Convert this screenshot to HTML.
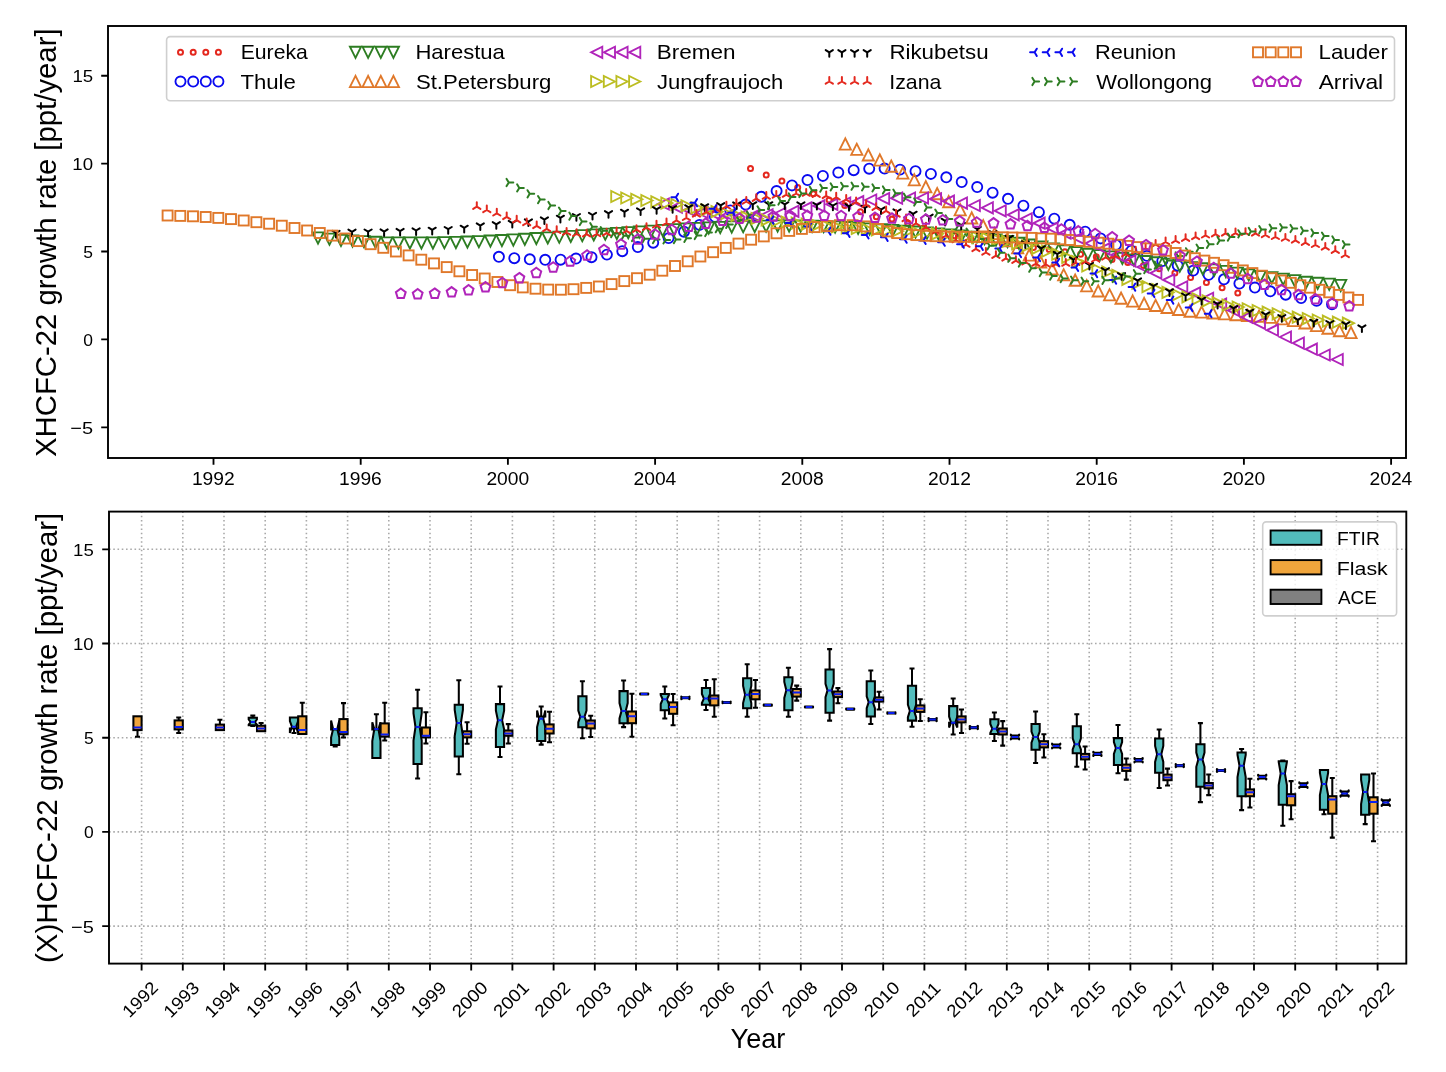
<!DOCTYPE html><html><head><meta charset="utf-8"><title>HCFC-22 growth rate</title>
<style>html,body{margin:0;padding:0;background:#fff;overflow:hidden}svg{display:block;will-change:transform}text{font-family:"Liberation Sans",sans-serif;fill:#000}</style></head><body>
<svg width="1446" height="1072" viewBox="0 0 1446 1072">
<defs>
<circle id="m_os" r="2.5" fill="none" stroke-width="2.0"/>
<circle id="m_o" r="5.05" fill="none" stroke-width="1.85"/>
<path id="m_v" d="M0,5.6L-5.6,-5.6L5.6,-5.6Z" fill="none" stroke-width="1.85" stroke-linejoin="miter"/>
<path id="m_^" d="M0,-5.6L-5.6,5.6L5.6,5.6Z" fill="none" stroke-width="1.85" stroke-linejoin="miter"/>
<path id="m_<" d="M-5.6,0L5.6,-5.6L5.6,5.6Z" fill="none" stroke-width="1.85" stroke-linejoin="miter"/>
<path id="m_>" d="M5.6,0L-5.6,-5.6L-5.6,5.6Z" fill="none" stroke-width="1.85" stroke-linejoin="miter"/>
<path id="m_1" d="M0,0V4.5M0,0L-3.6,-2.2M0,0L3.6,-2.2" fill="none" stroke-width="2.0" stroke-linecap="round"/>
<path id="m_2" d="M0,0V-4.5M0,0L-3.6,2.2M0,0L3.6,2.2" fill="none" stroke-width="2.0" stroke-linecap="round"/>
<path id="m_3" d="M0,0H-4.5M0,0L2.2,-3.6M0,0L2.2,3.6" fill="none" stroke-width="2.0" stroke-linecap="round"/>
<path id="m_4" d="M0,0H4.5M0,0L-2.2,-3.6M0,0L-2.2,3.6" fill="none" stroke-width="2.0" stroke-linecap="round"/>
<rect id="m_s" x="-5" y="-5" width="10" height="10" fill="none" stroke-width="1.9"/>
<path id="m_p" d="M0,-4.9L4.9,-1.3L3.1,4.6L-3.1,4.6L-4.9,-1.3Z" fill="none" stroke-width="2.0" stroke-linejoin="miter"/>
<clipPath id="ct"><rect x="108.0" y="26.0" width="1298" height="432"/></clipPath>
<clipPath id="cb"><rect x="109.0" y="511.6" width="1297.3" height="452"/></clipPath>
</defs>
<rect width="1446" height="1072" fill="#fff"/>
<g clip-path="url(#ct)">
<g stroke="#e4281e">
<use href="#m_os" x="750.5" y="168.5"/>
<use href="#m_os" x="766.2" y="174.9"/>
<use href="#m_os" x="781.9" y="180.9"/>
<use href="#m_os" x="797.7" y="187.4"/>
<use href="#m_os" x="813.4" y="193.7"/>
<use href="#m_os" x="829.1" y="199.9"/>
<use href="#m_os" x="844.8" y="205.6"/>
<use href="#m_os" x="860.5" y="211.7"/>
<use href="#m_os" x="876.3" y="216.8"/>
<use href="#m_os" x="892" y="219.1"/>
<use href="#m_os" x="907.7" y="223.3"/>
<use href="#m_os" x="923.4" y="228.3"/>
<use href="#m_os" x="939.1" y="233"/>
<use href="#m_os" x="954.9" y="235.7"/>
<use href="#m_os" x="970.6" y="238.3"/>
<use href="#m_os" x="986.3" y="240.8"/>
<use href="#m_os" x="1002" y="243.2"/>
<use href="#m_os" x="1017.7" y="245.4"/>
<use href="#m_os" x="1033.4" y="247.5"/>
<use href="#m_os" x="1049.2" y="249.6"/>
<use href="#m_os" x="1064.9" y="251.8"/>
<use href="#m_os" x="1080.6" y="254.3"/>
<use href="#m_os" x="1096.3" y="256.8"/>
<use href="#m_os" x="1112" y="259.4"/>
<use href="#m_os" x="1127.8" y="262.5"/>
<use href="#m_os" x="1143.5" y="265.6"/>
<use href="#m_os" x="1159.2" y="268.8"/>
<use href="#m_os" x="1174.9" y="273"/>
<use href="#m_os" x="1190.6" y="277.4"/>
<use href="#m_os" x="1206.4" y="282.6"/>
<use href="#m_os" x="1222.1" y="287.8"/>
<use href="#m_os" x="1237.8" y="293"/>
</g>
<g stroke="#0a0af0">
<use href="#m_o" x="498.9" y="256.8"/>
<use href="#m_o" x="514.3" y="258.2"/>
<use href="#m_o" x="529.8" y="259.3"/>
<use href="#m_o" x="545.2" y="259.8"/>
<use href="#m_o" x="560.6" y="259.7"/>
<use href="#m_o" x="576" y="258.5"/>
<use href="#m_o" x="591.5" y="257.2"/>
<use href="#m_o" x="606.9" y="254.6"/>
<use href="#m_o" x="622.3" y="251.2"/>
<use href="#m_o" x="637.8" y="247"/>
<use href="#m_o" x="653.2" y="242.7"/>
<use href="#m_o" x="668.6" y="238.1"/>
<use href="#m_o" x="684" y="231.7"/>
<use href="#m_o" x="699.5" y="224.9"/>
<use href="#m_o" x="714.9" y="216.8"/>
<use href="#m_o" x="730.3" y="210.4"/>
<use href="#m_o" x="745.7" y="204.5"/>
<use href="#m_o" x="761.2" y="196.8"/>
<use href="#m_o" x="776.6" y="191"/>
<use href="#m_o" x="792" y="185.4"/>
<use href="#m_o" x="807.5" y="180"/>
<use href="#m_o" x="822.9" y="175.9"/>
<use href="#m_o" x="838.3" y="172.5"/>
<use href="#m_o" x="853.7" y="170.2"/>
<use href="#m_o" x="869.2" y="168.7"/>
<use href="#m_o" x="884.6" y="168.5"/>
<use href="#m_o" x="900" y="169.6"/>
<use href="#m_o" x="915.5" y="171.2"/>
<use href="#m_o" x="930.9" y="173.9"/>
<use href="#m_o" x="946.3" y="177.3"/>
<use href="#m_o" x="961.7" y="182"/>
<use href="#m_o" x="977.2" y="187"/>
<use href="#m_o" x="992.6" y="192.7"/>
<use href="#m_o" x="1008" y="198.8"/>
<use href="#m_o" x="1023.4" y="205.7"/>
<use href="#m_o" x="1038.9" y="212.2"/>
<use href="#m_o" x="1054.3" y="218.6"/>
<use href="#m_o" x="1069.7" y="224.8"/>
<use href="#m_o" x="1085.2" y="231.6"/>
<use href="#m_o" x="1100.6" y="238.4"/>
<use href="#m_o" x="1116" y="244.8"/>
<use href="#m_o" x="1131.4" y="250.7"/>
<use href="#m_o" x="1146.9" y="255.9"/>
<use href="#m_o" x="1162.3" y="261"/>
<use href="#m_o" x="1177.7" y="265.5"/>
<use href="#m_o" x="1193.2" y="270.6"/>
<use href="#m_o" x="1208.6" y="274.9"/>
<use href="#m_o" x="1224" y="279.3"/>
<use href="#m_o" x="1239.4" y="283.5"/>
<use href="#m_o" x="1254.9" y="287.5"/>
<use href="#m_o" x="1270.3" y="291.3"/>
<use href="#m_o" x="1285.7" y="294.7"/>
<use href="#m_o" x="1301.1" y="298.1"/>
<use href="#m_o" x="1316.6" y="300.9"/>
<use href="#m_o" x="1332" y="304.2"/>
</g>
<g stroke="#2d7d22">
<use href="#m_v" x="318" y="238"/>
<use href="#m_v" x="329.5" y="239.2"/>
<use href="#m_v" x="341" y="240.4"/>
<use href="#m_v" x="352.5" y="241.1"/>
<use href="#m_v" x="364" y="241.7"/>
<use href="#m_v" x="375.5" y="242.3"/>
<use href="#m_v" x="386.9" y="242.9"/>
<use href="#m_v" x="398.4" y="243"/>
<use href="#m_v" x="409.9" y="243"/>
<use href="#m_v" x="421.4" y="243"/>
<use href="#m_v" x="432.9" y="243"/>
<use href="#m_v" x="444.4" y="242.7"/>
<use href="#m_v" x="455.9" y="242.5"/>
<use href="#m_v" x="467.4" y="242.1"/>
<use href="#m_v" x="478.9" y="241.7"/>
<use href="#m_v" x="490.4" y="241.1"/>
<use href="#m_v" x="501.9" y="240.6"/>
<use href="#m_v" x="513.3" y="240"/>
<use href="#m_v" x="524.8" y="239.3"/>
<use href="#m_v" x="536.3" y="238.6"/>
<use href="#m_v" x="547.8" y="237.9"/>
<use href="#m_v" x="559.3" y="237.2"/>
<use href="#m_v" x="570.8" y="236.4"/>
<use href="#m_v" x="582.3" y="235.7"/>
<use href="#m_v" x="593.8" y="234.9"/>
<use href="#m_v" x="605.3" y="234.2"/>
<use href="#m_v" x="616.8" y="233.5"/>
<use href="#m_v" x="628.3" y="232.7"/>
<use href="#m_v" x="639.7" y="232"/>
<use href="#m_v" x="651.2" y="231.2"/>
<use href="#m_v" x="662.7" y="230.5"/>
<use href="#m_v" x="674.2" y="229.7"/>
<use href="#m_v" x="685.7" y="229"/>
<use href="#m_v" x="697.2" y="228.5"/>
<use href="#m_v" x="708.7" y="228"/>
<use href="#m_v" x="720.2" y="227.5"/>
<use href="#m_v" x="731.7" y="227"/>
<use href="#m_v" x="743.2" y="226.7"/>
<use href="#m_v" x="754.7" y="226.5"/>
<use href="#m_v" x="766.1" y="226.2"/>
<use href="#m_v" x="777.6" y="226"/>
<use href="#m_v" x="789.1" y="226"/>
<use href="#m_v" x="800.6" y="226"/>
<use href="#m_v" x="812.1" y="226.3"/>
<use href="#m_v" x="823.6" y="226.6"/>
<use href="#m_v" x="835.1" y="227"/>
<use href="#m_v" x="846.6" y="227.6"/>
<use href="#m_v" x="858.1" y="228.3"/>
<use href="#m_v" x="869.6" y="229"/>
<use href="#m_v" x="881.1" y="229.8"/>
<use href="#m_v" x="892.6" y="230.5"/>
<use href="#m_v" x="904" y="231.3"/>
<use href="#m_v" x="915.5" y="232.1"/>
<use href="#m_v" x="927" y="233"/>
<use href="#m_v" x="938.5" y="234"/>
<use href="#m_v" x="950" y="235"/>
<use href="#m_v" x="961.5" y="236.1"/>
<use href="#m_v" x="973" y="237.3"/>
<use href="#m_v" x="984.5" y="238.6"/>
<use href="#m_v" x="996" y="240.1"/>
<use href="#m_v" x="1007.5" y="241.6"/>
<use href="#m_v" x="1019" y="243.3"/>
<use href="#m_v" x="1030.4" y="245.1"/>
<use href="#m_v" x="1041.9" y="247.1"/>
<use href="#m_v" x="1053.4" y="249.1"/>
<use href="#m_v" x="1064.9" y="250.9"/>
<use href="#m_v" x="1076.4" y="252.6"/>
<use href="#m_v" x="1087.9" y="254.3"/>
<use href="#m_v" x="1099.4" y="255.7"/>
<use href="#m_v" x="1110.9" y="257"/>
<use href="#m_v" x="1122.4" y="258.4"/>
<use href="#m_v" x="1133.9" y="260"/>
<use href="#m_v" x="1145.4" y="261.6"/>
<use href="#m_v" x="1156.8" y="262.9"/>
<use href="#m_v" x="1168.3" y="264.3"/>
<use href="#m_v" x="1179.8" y="266"/>
<use href="#m_v" x="1191.3" y="267.8"/>
<use href="#m_v" x="1202.8" y="268.9"/>
<use href="#m_v" x="1214.3" y="270"/>
<use href="#m_v" x="1225.8" y="271.5"/>
<use href="#m_v" x="1237.3" y="273.2"/>
<use href="#m_v" x="1248.8" y="274.9"/>
<use href="#m_v" x="1260.3" y="276.6"/>
<use href="#m_v" x="1271.8" y="277.9"/>
<use href="#m_v" x="1283.2" y="279.2"/>
<use href="#m_v" x="1294.7" y="280.8"/>
<use href="#m_v" x="1306.2" y="282.4"/>
<use href="#m_v" x="1317.7" y="283.4"/>
<use href="#m_v" x="1329.2" y="284.3"/>
<use href="#m_v" x="1340.7" y="285.5"/>
</g>
<g stroke="#e0782a">
<use href="#m_^" x="845.3" y="144"/>
<use href="#m_^" x="856.8" y="149.3"/>
<use href="#m_^" x="868.3" y="154.9"/>
<use href="#m_^" x="879.8" y="160"/>
<use href="#m_^" x="891.3" y="166.1"/>
<use href="#m_^" x="902.8" y="173"/>
<use href="#m_^" x="914.3" y="179.8"/>
<use href="#m_^" x="925.8" y="186.7"/>
<use href="#m_^" x="937.2" y="193.6"/>
<use href="#m_^" x="948.7" y="201.6"/>
<use href="#m_^" x="960.2" y="209.7"/>
<use href="#m_^" x="971.7" y="217.9"/>
<use href="#m_^" x="983.2" y="225.7"/>
<use href="#m_^" x="994.7" y="233.5"/>
<use href="#m_^" x="1006.2" y="240.7"/>
<use href="#m_^" x="1017.7" y="247.8"/>
<use href="#m_^" x="1029.2" y="255"/>
<use href="#m_^" x="1040.7" y="261.9"/>
<use href="#m_^" x="1052.2" y="268.9"/>
<use href="#m_^" x="1063.7" y="274.8"/>
<use href="#m_^" x="1075.2" y="280.1"/>
<use href="#m_^" x="1086.7" y="285.7"/>
<use href="#m_^" x="1098.2" y="290.9"/>
<use href="#m_^" x="1109.6" y="294.8"/>
<use href="#m_^" x="1121.1" y="298.1"/>
<use href="#m_^" x="1132.6" y="301"/>
<use href="#m_^" x="1144.1" y="303.5"/>
<use href="#m_^" x="1155.6" y="305.4"/>
<use href="#m_^" x="1167.1" y="307.4"/>
<use href="#m_^" x="1178.6" y="309.4"/>
<use href="#m_^" x="1190.1" y="311.1"/>
<use href="#m_^" x="1201.6" y="312"/>
<use href="#m_^" x="1213.1" y="312.9"/>
<use href="#m_^" x="1224.6" y="313.7"/>
<use href="#m_^" x="1236.1" y="314.6"/>
<use href="#m_^" x="1247.6" y="315.4"/>
<use href="#m_^" x="1259.1" y="316.1"/>
<use href="#m_^" x="1270.5" y="317.2"/>
<use href="#m_^" x="1282" y="318.8"/>
<use href="#m_^" x="1293.5" y="320.5"/>
<use href="#m_^" x="1305" y="322.9"/>
<use href="#m_^" x="1316.5" y="325.5"/>
<use href="#m_^" x="1328" y="328.1"/>
<use href="#m_^" x="1339.5" y="330.6"/>
<use href="#m_^" x="1351" y="332.5"/>
</g>
<g stroke="#b024ba">
<use href="#m_<" x="663.3" y="204"/>
<use href="#m_<" x="676.3" y="207.1"/>
<use href="#m_<" x="689.2" y="210.2"/>
<use href="#m_<" x="702.2" y="212.5"/>
<use href="#m_<" x="715.1" y="214.2"/>
<use href="#m_<" x="728.1" y="215"/>
<use href="#m_<" x="741.1" y="215.5"/>
<use href="#m_<" x="754" y="215.4"/>
<use href="#m_<" x="767" y="214.8"/>
<use href="#m_<" x="779.9" y="213.5"/>
<use href="#m_<" x="792.9" y="211.3"/>
<use href="#m_<" x="805.9" y="207.9"/>
<use href="#m_<" x="818.8" y="205.9"/>
<use href="#m_<" x="831.8" y="204.3"/>
<use href="#m_<" x="844.7" y="203"/>
<use href="#m_<" x="857.7" y="201.7"/>
<use href="#m_<" x="870.7" y="200"/>
<use href="#m_<" x="883.6" y="198.6"/>
<use href="#m_<" x="896.6" y="198.2"/>
<use href="#m_<" x="909.5" y="198.1"/>
<use href="#m_<" x="922.5" y="198"/>
<use href="#m_<" x="935.5" y="198.9"/>
<use href="#m_<" x="948.4" y="201.2"/>
<use href="#m_<" x="961.4" y="203.1"/>
<use href="#m_<" x="974.3" y="205.5"/>
<use href="#m_<" x="987.3" y="207.8"/>
<use href="#m_<" x="1000.2" y="210.8"/>
<use href="#m_<" x="1013.2" y="214.8"/>
<use href="#m_<" x="1026.2" y="218.8"/>
<use href="#m_<" x="1039.1" y="223.2"/>
<use href="#m_<" x="1052.1" y="228.2"/>
<use href="#m_<" x="1065" y="233.1"/>
<use href="#m_<" x="1078" y="238.1"/>
<use href="#m_<" x="1091" y="243.3"/>
<use href="#m_<" x="1103.9" y="248.9"/>
<use href="#m_<" x="1116.9" y="254.9"/>
<use href="#m_<" x="1129.8" y="260.9"/>
<use href="#m_<" x="1142.8" y="267"/>
<use href="#m_<" x="1155.8" y="273.1"/>
<use href="#m_<" x="1168.7" y="279.9"/>
<use href="#m_<" x="1181.7" y="286.8"/>
<use href="#m_<" x="1194.6" y="292.9"/>
<use href="#m_<" x="1207.6" y="298.3"/>
<use href="#m_<" x="1220.6" y="304.2"/>
<use href="#m_<" x="1233.5" y="310.4"/>
<use href="#m_<" x="1246.5" y="317.1"/>
<use href="#m_<" x="1259.4" y="323.3"/>
<use href="#m_<" x="1272.4" y="330.2"/>
<use href="#m_<" x="1285.4" y="337"/>
<use href="#m_<" x="1298.3" y="343.1"/>
<use href="#m_<" x="1311.3" y="349.2"/>
<use href="#m_<" x="1324.2" y="355"/>
<use href="#m_<" x="1337.2" y="359.5"/>
</g>
<g stroke="#bcbd22">
<use href="#m_>" x="616.8" y="196.5"/>
<use href="#m_>" x="626.8" y="198"/>
<use href="#m_>" x="636.8" y="199.3"/>
<use href="#m_>" x="646.9" y="200.5"/>
<use href="#m_>" x="656.9" y="201.8"/>
<use href="#m_>" x="666.9" y="203.1"/>
<use href="#m_>" x="676.9" y="204.5"/>
<use href="#m_>" x="687" y="205.8"/>
<use href="#m_>" x="697" y="207.8"/>
<use href="#m_>" x="707" y="209.8"/>
<use href="#m_>" x="717" y="211.7"/>
<use href="#m_>" x="727" y="213.5"/>
<use href="#m_>" x="737.1" y="215.4"/>
<use href="#m_>" x="747.1" y="217.2"/>
<use href="#m_>" x="757.1" y="218.5"/>
<use href="#m_>" x="767.1" y="219.8"/>
<use href="#m_>" x="777.2" y="221"/>
<use href="#m_>" x="787.2" y="222.2"/>
<use href="#m_>" x="797.2" y="223.2"/>
<use href="#m_>" x="807.2" y="224.2"/>
<use href="#m_>" x="817.2" y="225.2"/>
<use href="#m_>" x="827.3" y="226.1"/>
<use href="#m_>" x="837.3" y="226.9"/>
<use href="#m_>" x="847.3" y="227.8"/>
<use href="#m_>" x="857.3" y="228.5"/>
<use href="#m_>" x="867.3" y="229.2"/>
<use href="#m_>" x="877.4" y="229.8"/>
<use href="#m_>" x="887.4" y="230.5"/>
<use href="#m_>" x="897.4" y="231.2"/>
<use href="#m_>" x="907.4" y="231.8"/>
<use href="#m_>" x="917.5" y="232.5"/>
<use href="#m_>" x="927.5" y="233.2"/>
<use href="#m_>" x="937.5" y="233.8"/>
<use href="#m_>" x="947.5" y="234.6"/>
<use href="#m_>" x="957.5" y="235.5"/>
<use href="#m_>" x="967.6" y="236.3"/>
<use href="#m_>" x="977.6" y="237.3"/>
<use href="#m_>" x="987.6" y="238.4"/>
<use href="#m_>" x="997.6" y="239.6"/>
<use href="#m_>" x="1007.7" y="241.3"/>
<use href="#m_>" x="1017.7" y="243.6"/>
<use href="#m_>" x="1027.7" y="245.8"/>
<use href="#m_>" x="1037.7" y="248.3"/>
<use href="#m_>" x="1047.7" y="251.2"/>
<use href="#m_>" x="1057.8" y="254.2"/>
<use href="#m_>" x="1067.8" y="257.3"/>
<use href="#m_>" x="1077.8" y="261.7"/>
<use href="#m_>" x="1087.8" y="266"/>
<use href="#m_>" x="1097.9" y="269.5"/>
<use href="#m_>" x="1107.9" y="272"/>
<use href="#m_>" x="1117.9" y="275.3"/>
<use href="#m_>" x="1127.9" y="279.3"/>
<use href="#m_>" x="1137.9" y="283.2"/>
<use href="#m_>" x="1148" y="286.6"/>
<use href="#m_>" x="1158" y="289.7"/>
<use href="#m_>" x="1168" y="292.4"/>
<use href="#m_>" x="1178" y="294.8"/>
<use href="#m_>" x="1188" y="296.8"/>
<use href="#m_>" x="1198.1" y="298.8"/>
<use href="#m_>" x="1208.1" y="300.8"/>
<use href="#m_>" x="1218.1" y="302.9"/>
<use href="#m_>" x="1228.1" y="305.1"/>
<use href="#m_>" x="1238.2" y="307.1"/>
<use href="#m_>" x="1248.2" y="308.8"/>
<use href="#m_>" x="1258.2" y="310.5"/>
<use href="#m_>" x="1268.2" y="312.2"/>
<use href="#m_>" x="1278.2" y="313.8"/>
<use href="#m_>" x="1288.3" y="315.5"/>
<use href="#m_>" x="1298.3" y="317.2"/>
<use href="#m_>" x="1308.3" y="318.6"/>
<use href="#m_>" x="1318.3" y="320"/>
<use href="#m_>" x="1328.4" y="321.2"/>
<use href="#m_>" x="1338.4" y="322.2"/>
<use href="#m_>" x="1348.4" y="323.2"/>
</g>
<g stroke="#000000">
<use href="#m_1" x="336" y="233"/>
<use href="#m_1" x="352" y="231.8"/>
<use href="#m_1" x="368.1" y="231.7"/>
<use href="#m_1" x="384.1" y="231.6"/>
<use href="#m_1" x="400.1" y="231.1"/>
<use href="#m_1" x="416.1" y="230.5"/>
<use href="#m_1" x="432.2" y="229.9"/>
<use href="#m_1" x="448.2" y="229.2"/>
<use href="#m_1" x="464.2" y="227.9"/>
<use href="#m_1" x="480.3" y="225.6"/>
<use href="#m_1" x="496.3" y="224.3"/>
<use href="#m_1" x="512.3" y="223.1"/>
<use href="#m_1" x="528.4" y="221.6"/>
<use href="#m_1" x="544.4" y="219.6"/>
<use href="#m_1" x="560.4" y="217.9"/>
<use href="#m_1" x="576.4" y="216.2"/>
<use href="#m_1" x="592.5" y="215"/>
<use href="#m_1" x="608.5" y="213.3"/>
<use href="#m_1" x="624.5" y="211.9"/>
<use href="#m_1" x="640.6" y="210.5"/>
<use href="#m_1" x="656.6" y="209.3"/>
<use href="#m_1" x="672.6" y="208.2"/>
<use href="#m_1" x="688.7" y="207.4"/>
<use href="#m_1" x="704.7" y="206.4"/>
<use href="#m_1" x="720.7" y="205.3"/>
<use href="#m_1" x="736.7" y="204.6"/>
<use href="#m_1" x="752.8" y="204.4"/>
<use href="#m_1" x="768.8" y="204.4"/>
<use href="#m_1" x="784.8" y="204.4"/>
<use href="#m_1" x="800.9" y="204.5"/>
<use href="#m_1" x="816.9" y="205"/>
<use href="#m_1" x="832.9" y="205.7"/>
<use href="#m_1" x="849" y="206.3"/>
<use href="#m_1" x="865" y="207.9"/>
<use href="#m_1" x="881" y="209.6"/>
<use href="#m_1" x="897" y="211.5"/>
<use href="#m_1" x="913.1" y="213.9"/>
<use href="#m_1" x="929.1" y="216.8"/>
<use href="#m_1" x="945.1" y="220.9"/>
<use href="#m_1" x="961.2" y="225"/>
<use href="#m_1" x="977.2" y="229.1"/>
<use href="#m_1" x="993.2" y="233.4"/>
<use href="#m_1" x="1009.2" y="238.1"/>
<use href="#m_1" x="1025.3" y="243.4"/>
<use href="#m_1" x="1041.3" y="248.4"/>
<use href="#m_1" x="1057.3" y="254.1"/>
<use href="#m_1" x="1073.4" y="259.6"/>
<use href="#m_1" x="1089.4" y="265"/>
<use href="#m_1" x="1105.4" y="270.3"/>
<use href="#m_1" x="1121.5" y="275.3"/>
<use href="#m_1" x="1137.5" y="280.6"/>
<use href="#m_1" x="1153.5" y="286"/>
<use href="#m_1" x="1169.5" y="291.4"/>
<use href="#m_1" x="1185.6" y="295.7"/>
<use href="#m_1" x="1201.6" y="299.9"/>
<use href="#m_1" x="1217.6" y="304.1"/>
<use href="#m_1" x="1233.7" y="308.3"/>
<use href="#m_1" x="1249.7" y="311.9"/>
<use href="#m_1" x="1265.7" y="314.6"/>
<use href="#m_1" x="1281.8" y="317.2"/>
<use href="#m_1" x="1297.8" y="319.8"/>
<use href="#m_1" x="1313.8" y="321.9"/>
<use href="#m_1" x="1329.8" y="323.2"/>
<use href="#m_1" x="1345.9" y="324.4"/>
<use href="#m_1" x="1361.9" y="327.6"/>
</g>
<g stroke="#e4281e">
<use href="#m_2" x="476.8" y="206.7"/>
<use href="#m_2" x="486.8" y="210"/>
<use href="#m_2" x="496.8" y="213.3"/>
<use href="#m_2" x="506.7" y="216.9"/>
<use href="#m_2" x="516.7" y="220.2"/>
<use href="#m_2" x="526.7" y="223"/>
<use href="#m_2" x="536.7" y="225.9"/>
<use href="#m_2" x="546.7" y="228.9"/>
<use href="#m_2" x="556.7" y="230.8"/>
<use href="#m_2" x="566.6" y="232.5"/>
<use href="#m_2" x="576.6" y="233.8"/>
<use href="#m_2" x="586.6" y="234.2"/>
<use href="#m_2" x="596.6" y="234"/>
<use href="#m_2" x="606.6" y="233.2"/>
<use href="#m_2" x="616.6" y="232.1"/>
<use href="#m_2" x="626.5" y="230.9"/>
<use href="#m_2" x="636.5" y="229.7"/>
<use href="#m_2" x="646.5" y="227.7"/>
<use href="#m_2" x="656.5" y="225.3"/>
<use href="#m_2" x="666.5" y="223"/>
<use href="#m_2" x="676.5" y="220.4"/>
<use href="#m_2" x="686.4" y="217.8"/>
<use href="#m_2" x="696.4" y="214.4"/>
<use href="#m_2" x="706.4" y="211.8"/>
<use href="#m_2" x="716.4" y="209.5"/>
<use href="#m_2" x="726.4" y="206.3"/>
<use href="#m_2" x="736.4" y="203.7"/>
<use href="#m_2" x="746.3" y="201.5"/>
<use href="#m_2" x="756.3" y="198.7"/>
<use href="#m_2" x="766.3" y="196.6"/>
<use href="#m_2" x="776.3" y="195.5"/>
<use href="#m_2" x="786.3" y="194.6"/>
<use href="#m_2" x="796.2" y="193.5"/>
<use href="#m_2" x="806.2" y="193.6"/>
<use href="#m_2" x="816.2" y="194.7"/>
<use href="#m_2" x="826.2" y="195.9"/>
<use href="#m_2" x="836.2" y="197.3"/>
<use href="#m_2" x="846.2" y="199.6"/>
<use href="#m_2" x="856.1" y="202.1"/>
<use href="#m_2" x="866.1" y="204.7"/>
<use href="#m_2" x="876.1" y="207.7"/>
<use href="#m_2" x="886.1" y="210.9"/>
<use href="#m_2" x="896.1" y="214.5"/>
<use href="#m_2" x="906.1" y="219"/>
<use href="#m_2" x="916" y="223.4"/>
<use href="#m_2" x="926" y="227.3"/>
<use href="#m_2" x="936" y="231.3"/>
<use href="#m_2" x="946" y="235.5"/>
<use href="#m_2" x="956" y="240.1"/>
<use href="#m_2" x="966" y="244.6"/>
<use href="#m_2" x="975.9" y="248.9"/>
<use href="#m_2" x="985.9" y="252.5"/>
<use href="#m_2" x="995.9" y="255.7"/>
<use href="#m_2" x="1005.9" y="258.4"/>
<use href="#m_2" x="1015.9" y="260.7"/>
<use href="#m_2" x="1025.9" y="262.3"/>
<use href="#m_2" x="1035.8" y="263.6"/>
<use href="#m_2" x="1045.8" y="264.3"/>
<use href="#m_2" x="1055.8" y="264.1"/>
<use href="#m_2" x="1065.8" y="263.6"/>
<use href="#m_2" x="1075.8" y="262.7"/>
<use href="#m_2" x="1085.7" y="261.5"/>
<use href="#m_2" x="1095.7" y="259.3"/>
<use href="#m_2" x="1105.7" y="257.4"/>
<use href="#m_2" x="1115.7" y="255.9"/>
<use href="#m_2" x="1125.7" y="254.1"/>
<use href="#m_2" x="1135.7" y="251.3"/>
<use href="#m_2" x="1145.6" y="248.1"/>
<use href="#m_2" x="1155.6" y="244.5"/>
<use href="#m_2" x="1165.6" y="242"/>
<use href="#m_2" x="1175.6" y="240.6"/>
<use href="#m_2" x="1185.6" y="238.7"/>
<use href="#m_2" x="1195.6" y="236.9"/>
<use href="#m_2" x="1205.5" y="235.3"/>
<use href="#m_2" x="1215.5" y="234.2"/>
<use href="#m_2" x="1225.5" y="233.4"/>
<use href="#m_2" x="1235.5" y="233.1"/>
<use href="#m_2" x="1245.5" y="232.8"/>
<use href="#m_2" x="1255.5" y="233.4"/>
<use href="#m_2" x="1265.4" y="235"/>
<use href="#m_2" x="1275.4" y="236.8"/>
<use href="#m_2" x="1285.4" y="238.5"/>
<use href="#m_2" x="1295.4" y="240.4"/>
<use href="#m_2" x="1305.4" y="242.7"/>
<use href="#m_2" x="1315.4" y="244.8"/>
<use href="#m_2" x="1325.3" y="247.4"/>
<use href="#m_2" x="1335.3" y="250.7"/>
<use href="#m_2" x="1345.3" y="255"/>
</g>
<g stroke="#0a0af0">
<use href="#m_3" x="675.9" y="197.3"/>
<use href="#m_3" x="694.9" y="202.7"/>
<use href="#m_3" x="714" y="208.8"/>
<use href="#m_3" x="733" y="212.7"/>
<use href="#m_3" x="752.1" y="217.5"/>
<use href="#m_3" x="771.1" y="220"/>
<use href="#m_3" x="790.2" y="222.9"/>
<use href="#m_3" x="809.2" y="226.5"/>
<use href="#m_3" x="828.3" y="231.2"/>
<use href="#m_3" x="847.4" y="233.3"/>
<use href="#m_3" x="866.4" y="234.9"/>
<use href="#m_3" x="885.5" y="237.3"/>
<use href="#m_3" x="904.5" y="239.2"/>
<use href="#m_3" x="923.5" y="240.4"/>
<use href="#m_3" x="942.6" y="242.2"/>
<use href="#m_3" x="961.6" y="244.2"/>
<use href="#m_3" x="980.7" y="246.3"/>
<use href="#m_3" x="999.8" y="248.6"/>
<use href="#m_3" x="1018.8" y="253.5"/>
<use href="#m_3" x="1037.8" y="257.5"/>
<use href="#m_3" x="1056.9" y="262.5"/>
<use href="#m_3" x="1076" y="267.4"/>
<use href="#m_3" x="1095" y="273.6"/>
<use href="#m_3" x="1114" y="280.1"/>
<use href="#m_3" x="1133.1" y="287.1"/>
<use href="#m_3" x="1152.2" y="293.5"/>
<use href="#m_3" x="1171.2" y="300.1"/>
<use href="#m_3" x="1190.2" y="307.5"/>
<use href="#m_3" x="1209.3" y="313.7"/>
</g>
<g stroke="#2d7d22">
<use href="#m_4" x="508.8" y="182.5"/>
<use href="#m_4" x="519.3" y="187.9"/>
<use href="#m_4" x="529.7" y="193.8"/>
<use href="#m_4" x="540.2" y="199.6"/>
<use href="#m_4" x="550.6" y="205.5"/>
<use href="#m_4" x="561.1" y="211.1"/>
<use href="#m_4" x="571.5" y="216.1"/>
<use href="#m_4" x="582" y="221.5"/>
<use href="#m_4" x="592.4" y="226.7"/>
<use href="#m_4" x="602.9" y="230.7"/>
<use href="#m_4" x="613.3" y="233.6"/>
<use href="#m_4" x="623.8" y="235.8"/>
<use href="#m_4" x="634.2" y="237.5"/>
<use href="#m_4" x="644.7" y="238.8"/>
<use href="#m_4" x="655.1" y="239.6"/>
<use href="#m_4" x="665.6" y="239.9"/>
<use href="#m_4" x="676" y="239.6"/>
<use href="#m_4" x="686.5" y="238.3"/>
<use href="#m_4" x="696.9" y="235.5"/>
<use href="#m_4" x="707.4" y="232.5"/>
<use href="#m_4" x="717.9" y="228.7"/>
<use href="#m_4" x="728.3" y="224.4"/>
<use href="#m_4" x="738.8" y="220"/>
<use href="#m_4" x="749.2" y="215.1"/>
<use href="#m_4" x="759.7" y="209.9"/>
<use href="#m_4" x="770.1" y="205.3"/>
<use href="#m_4" x="780.6" y="201"/>
<use href="#m_4" x="791" y="197"/>
<use href="#m_4" x="801.5" y="193.5"/>
<use href="#m_4" x="811.9" y="190.2"/>
<use href="#m_4" x="822.4" y="188.1"/>
<use href="#m_4" x="832.8" y="186.9"/>
<use href="#m_4" x="843.3" y="186.3"/>
<use href="#m_4" x="853.7" y="186.2"/>
<use href="#m_4" x="864.2" y="186.8"/>
<use href="#m_4" x="874.6" y="187.9"/>
<use href="#m_4" x="885.1" y="190"/>
<use href="#m_4" x="895.5" y="193.2"/>
<use href="#m_4" x="906" y="197.2"/>
<use href="#m_4" x="916.4" y="202"/>
<use href="#m_4" x="926.9" y="207.4"/>
<use href="#m_4" x="937.4" y="213.1"/>
<use href="#m_4" x="947.8" y="218.9"/>
<use href="#m_4" x="958.3" y="225.4"/>
<use href="#m_4" x="968.7" y="232.2"/>
<use href="#m_4" x="979.2" y="239"/>
<use href="#m_4" x="989.6" y="245.8"/>
<use href="#m_4" x="1000.1" y="252.7"/>
<use href="#m_4" x="1010.5" y="258.2"/>
<use href="#m_4" x="1021" y="263"/>
<use href="#m_4" x="1031.4" y="268.2"/>
<use href="#m_4" x="1041.9" y="272.6"/>
<use href="#m_4" x="1052.3" y="276.1"/>
<use href="#m_4" x="1062.8" y="278.6"/>
<use href="#m_4" x="1073.2" y="280.2"/>
<use href="#m_4" x="1083.7" y="281.2"/>
<use href="#m_4" x="1094.1" y="281.3"/>
<use href="#m_4" x="1104.6" y="280.3"/>
<use href="#m_4" x="1115" y="278.5"/>
<use href="#m_4" x="1125.5" y="276.6"/>
<use href="#m_4" x="1136" y="273.7"/>
<use href="#m_4" x="1146.4" y="269.6"/>
<use href="#m_4" x="1156.9" y="265.2"/>
<use href="#m_4" x="1167.3" y="260.5"/>
<use href="#m_4" x="1177.8" y="255.9"/>
<use href="#m_4" x="1188.2" y="251.8"/>
<use href="#m_4" x="1198.7" y="248.1"/>
<use href="#m_4" x="1209.1" y="244.3"/>
<use href="#m_4" x="1219.6" y="240.4"/>
<use href="#m_4" x="1230" y="237.1"/>
<use href="#m_4" x="1240.5" y="233.8"/>
<use href="#m_4" x="1250.9" y="231.4"/>
<use href="#m_4" x="1261.4" y="229.6"/>
<use href="#m_4" x="1271.8" y="228.2"/>
<use href="#m_4" x="1282.3" y="227.6"/>
<use href="#m_4" x="1292.7" y="228.5"/>
<use href="#m_4" x="1303.2" y="230.7"/>
<use href="#m_4" x="1313.6" y="232.9"/>
<use href="#m_4" x="1324.1" y="236.1"/>
<use href="#m_4" x="1334.5" y="239.9"/>
<use href="#m_4" x="1345" y="244.6"/>
</g>
<g stroke="#e0782a">
<use href="#m_s" x="167.6" y="215.5"/>
<use href="#m_s" x="180.3" y="215.9"/>
<use href="#m_s" x="193" y="216.3"/>
<use href="#m_s" x="205.7" y="217"/>
<use href="#m_s" x="218.3" y="217.9"/>
<use href="#m_s" x="231" y="219.1"/>
<use href="#m_s" x="243.7" y="220.5"/>
<use href="#m_s" x="256.4" y="222.2"/>
<use href="#m_s" x="269.1" y="223.7"/>
<use href="#m_s" x="281.8" y="225.7"/>
<use href="#m_s" x="294.5" y="228"/>
<use href="#m_s" x="307.1" y="230.5"/>
<use href="#m_s" x="319.8" y="233"/>
<use href="#m_s" x="332.5" y="235.6"/>
<use href="#m_s" x="345.2" y="238.5"/>
<use href="#m_s" x="357.9" y="241.1"/>
<use href="#m_s" x="370.6" y="244.2"/>
<use href="#m_s" x="383.3" y="247.8"/>
<use href="#m_s" x="395.9" y="251.5"/>
<use href="#m_s" x="408.6" y="255.4"/>
<use href="#m_s" x="421.3" y="259.7"/>
<use href="#m_s" x="434" y="263.4"/>
<use href="#m_s" x="446.7" y="267.1"/>
<use href="#m_s" x="459.4" y="271.3"/>
<use href="#m_s" x="472.1" y="275"/>
<use href="#m_s" x="484.7" y="278.5"/>
<use href="#m_s" x="497.4" y="282"/>
<use href="#m_s" x="510.1" y="285.2"/>
<use href="#m_s" x="522.8" y="287.4"/>
<use href="#m_s" x="535.5" y="288.7"/>
<use href="#m_s" x="548.2" y="289.6"/>
<use href="#m_s" x="560.9" y="289.7"/>
<use href="#m_s" x="573.5" y="289.2"/>
<use href="#m_s" x="586.2" y="287.9"/>
<use href="#m_s" x="598.9" y="286.5"/>
<use href="#m_s" x="611.6" y="284.1"/>
<use href="#m_s" x="624.3" y="281.1"/>
<use href="#m_s" x="637" y="278.2"/>
<use href="#m_s" x="649.7" y="274.7"/>
<use href="#m_s" x="662.3" y="270.7"/>
<use href="#m_s" x="675" y="266"/>
<use href="#m_s" x="687.7" y="261.3"/>
<use href="#m_s" x="700.4" y="256.5"/>
<use href="#m_s" x="713.1" y="252.2"/>
<use href="#m_s" x="725.8" y="247.9"/>
<use href="#m_s" x="738.5" y="243.6"/>
<use href="#m_s" x="751.1" y="239.7"/>
<use href="#m_s" x="763.8" y="236.4"/>
<use href="#m_s" x="776.5" y="233.3"/>
<use href="#m_s" x="789.2" y="230.9"/>
<use href="#m_s" x="801.9" y="228.9"/>
<use href="#m_s" x="814.6" y="227.1"/>
<use href="#m_s" x="827.3" y="226.1"/>
<use href="#m_s" x="839.9" y="225.2"/>
<use href="#m_s" x="852.6" y="225.2"/>
<use href="#m_s" x="865.3" y="226.4"/>
<use href="#m_s" x="878" y="229"/>
<use href="#m_s" x="887.6" y="231.4"/>
<use href="#m_s" x="897.2" y="233.1"/>
<use href="#m_s" x="906.8" y="234.2"/>
<use href="#m_s" x="916.4" y="235.1"/>
<use href="#m_s" x="926" y="235.8"/>
<use href="#m_s" x="935.6" y="236.2"/>
<use href="#m_s" x="945.2" y="236.5"/>
<use href="#m_s" x="954.8" y="236.7"/>
<use href="#m_s" x="964.4" y="236.8"/>
<use href="#m_s" x="974" y="236.9"/>
<use href="#m_s" x="983.6" y="237.1"/>
<use href="#m_s" x="993.2" y="237.2"/>
<use href="#m_s" x="1002.8" y="237.3"/>
<use href="#m_s" x="1012.4" y="237.5"/>
<use href="#m_s" x="1022" y="237.7"/>
<use href="#m_s" x="1031.6" y="237.9"/>
<use href="#m_s" x="1041.2" y="238.3"/>
<use href="#m_s" x="1050.8" y="238.7"/>
<use href="#m_s" x="1060.4" y="239.3"/>
<use href="#m_s" x="1070" y="240"/>
<use href="#m_s" x="1079.6" y="240.9"/>
<use href="#m_s" x="1089.2" y="241.8"/>
<use href="#m_s" x="1098.8" y="242.7"/>
<use href="#m_s" x="1108.4" y="243.7"/>
<use href="#m_s" x="1118" y="244.8"/>
<use href="#m_s" x="1127.6" y="245.9"/>
<use href="#m_s" x="1137.2" y="247.1"/>
<use href="#m_s" x="1146.8" y="248.3"/>
<use href="#m_s" x="1156.4" y="249.5"/>
<use href="#m_s" x="1166" y="250.8"/>
<use href="#m_s" x="1175.6" y="253"/>
<use href="#m_s" x="1185.2" y="255.6"/>
<use href="#m_s" x="1194.8" y="258.2"/>
<use href="#m_s" x="1204.4" y="260.6"/>
<use href="#m_s" x="1214" y="262.8"/>
<use href="#m_s" x="1223.6" y="265.2"/>
<use href="#m_s" x="1233.2" y="267.8"/>
<use href="#m_s" x="1242.8" y="270.4"/>
<use href="#m_s" x="1252.4" y="273.1"/>
<use href="#m_s" x="1262" y="275.7"/>
<use href="#m_s" x="1271.6" y="278.2"/>
<use href="#m_s" x="1281.2" y="280.5"/>
<use href="#m_s" x="1290.8" y="282.8"/>
<use href="#m_s" x="1300.4" y="285.3"/>
<use href="#m_s" x="1310" y="287.7"/>
<use href="#m_s" x="1319.6" y="289.8"/>
<use href="#m_s" x="1329.2" y="292.3"/>
<use href="#m_s" x="1338.8" y="294.9"/>
<use href="#m_s" x="1348.4" y="297.5"/>
<use href="#m_s" x="1358" y="299.9"/>
</g>
<g stroke="#b024ba">
<use href="#m_p" x="400.8" y="293.4"/>
<use href="#m_p" x="417.7" y="293.9"/>
<use href="#m_p" x="434.7" y="293.3"/>
<use href="#m_p" x="451.6" y="292"/>
<use href="#m_p" x="468.6" y="289.9"/>
<use href="#m_p" x="485.5" y="286.9"/>
<use href="#m_p" x="502.4" y="282.7"/>
<use href="#m_p" x="519.4" y="277.8"/>
<use href="#m_p" x="536.3" y="272.6"/>
<use href="#m_p" x="553.2" y="267.1"/>
<use href="#m_p" x="570.2" y="261.1"/>
<use href="#m_p" x="587.1" y="255.1"/>
<use href="#m_p" x="604" y="249.6"/>
<use href="#m_p" x="621" y="244.2"/>
<use href="#m_p" x="637.9" y="239.1"/>
<use href="#m_p" x="654.9" y="234.1"/>
<use href="#m_p" x="671.8" y="229.6"/>
<use href="#m_p" x="688.7" y="226.4"/>
<use href="#m_p" x="705.7" y="223.4"/>
<use href="#m_p" x="722.6" y="220.3"/>
<use href="#m_p" x="739.5" y="218.4"/>
<use href="#m_p" x="756.5" y="217.2"/>
<use href="#m_p" x="773.4" y="216.2"/>
<use href="#m_p" x="790.4" y="215.7"/>
<use href="#m_p" x="807.3" y="215.4"/>
<use href="#m_p" x="824.2" y="215.4"/>
<use href="#m_p" x="841.2" y="215.6"/>
<use href="#m_p" x="858.1" y="216.4"/>
<use href="#m_p" x="875" y="217.4"/>
<use href="#m_p" x="892" y="218.2"/>
<use href="#m_p" x="908.9" y="218.6"/>
<use href="#m_p" x="925.9" y="219.2"/>
<use href="#m_p" x="942.8" y="219.9"/>
<use href="#m_p" x="959.7" y="220.9"/>
<use href="#m_p" x="976.7" y="222.1"/>
<use href="#m_p" x="993.6" y="223"/>
<use href="#m_p" x="1010.5" y="224"/>
<use href="#m_p" x="1027.5" y="225.6"/>
<use href="#m_p" x="1044.4" y="227.4"/>
<use href="#m_p" x="1061.4" y="229.1"/>
<use href="#m_p" x="1078.3" y="231"/>
<use href="#m_p" x="1095.2" y="233.6"/>
<use href="#m_p" x="1112.2" y="236.9"/>
<use href="#m_p" x="1129.1" y="240.4"/>
<use href="#m_p" x="1146" y="244.8"/>
<use href="#m_p" x="1163" y="249.9"/>
<use href="#m_p" x="1179.9" y="255.5"/>
<use href="#m_p" x="1196.9" y="261.3"/>
<use href="#m_p" x="1213.8" y="267.6"/>
<use href="#m_p" x="1230.7" y="273.2"/>
<use href="#m_p" x="1247.7" y="278.7"/>
<use href="#m_p" x="1264.6" y="284.4"/>
<use href="#m_p" x="1281.5" y="289.7"/>
<use href="#m_p" x="1298.5" y="294.7"/>
<use href="#m_p" x="1315.4" y="299"/>
<use href="#m_p" x="1332.4" y="303.1"/>
<use href="#m_p" x="1349.3" y="306"/>
</g>
</g>
<rect x="166.6" y="36.6" width="1227.9" height="64.2" rx="3.5" ry="3.5" fill="#fff" fill-opacity="0.8" stroke="#cfcfcf" stroke-width="1.6"/>
<g stroke="#e4281e">
<use href="#m_os" x="180.5" y="52.3"/>
<use href="#m_os" x="193.2" y="52.3"/>
<use href="#m_os" x="205.8" y="52.3"/>
<use href="#m_os" x="218.4" y="52.3"/>
</g>
<text x="240.7" y="59" font-size="20.7" textLength="67.1" lengthAdjust="spacingAndGlyphs" >Eureka</text>
<g stroke="#0a0af0">
<use href="#m_o" x="180.5" y="81.5"/>
<use href="#m_o" x="193.2" y="81.5"/>
<use href="#m_o" x="205.8" y="81.5"/>
<use href="#m_o" x="218.4" y="81.5"/>
</g>
<text x="240.4" y="88.7" font-size="20.7" textLength="55.5" lengthAdjust="spacingAndGlyphs" >Thule</text>
<g stroke="#2d7d22">
<use href="#m_v" x="355.5" y="52.3"/>
<use href="#m_v" x="368.1" y="52.3"/>
<use href="#m_v" x="380.8" y="52.3"/>
<use href="#m_v" x="393.4" y="52.3"/>
</g>
<text x="415.4" y="59" font-size="20.7" textLength="89.5" lengthAdjust="spacingAndGlyphs" >Harestua</text>
<g stroke="#e0782a">
<use href="#m_^" x="355.5" y="81.5"/>
<use href="#m_^" x="368.1" y="81.5"/>
<use href="#m_^" x="380.8" y="81.5"/>
<use href="#m_^" x="393.4" y="81.5"/>
</g>
<text x="415.9" y="88.7" font-size="20.7" textLength="135.5" lengthAdjust="spacingAndGlyphs" >St.Petersburg</text>
<g stroke="#b024ba">
<use href="#m_<" x="596.7" y="52.3"/>
<use href="#m_<" x="609.4" y="52.3"/>
<use href="#m_<" x="622" y="52.3"/>
<use href="#m_<" x="634.7" y="52.3"/>
</g>
<text x="656.8" y="59" font-size="20.7" textLength="78.8" lengthAdjust="spacingAndGlyphs" >Bremen</text>
<g stroke="#bcbd22">
<use href="#m_>" x="596.7" y="81.5"/>
<use href="#m_>" x="609.4" y="81.5"/>
<use href="#m_>" x="622" y="81.5"/>
<use href="#m_>" x="634.7" y="81.5"/>
</g>
<text x="657" y="88.7" font-size="20.7" textLength="126.2" lengthAdjust="spacingAndGlyphs" >Jungfraujoch</text>
<g stroke="#000000">
<use href="#m_1" x="829.3" y="52.3"/>
<use href="#m_1" x="841.9" y="52.3"/>
<use href="#m_1" x="854.6" y="52.3"/>
<use href="#m_1" x="867.2" y="52.3"/>
</g>
<text x="889.4" y="59" font-size="20.7" textLength="99.2" lengthAdjust="spacingAndGlyphs" >Rikubetsu</text>
<g stroke="#e4281e">
<use href="#m_2" x="829.3" y="81.5"/>
<use href="#m_2" x="841.9" y="81.5"/>
<use href="#m_2" x="854.6" y="81.5"/>
<use href="#m_2" x="867.2" y="81.5"/>
</g>
<text x="889.3" y="88.7" font-size="20.7" textLength="52.1" lengthAdjust="spacingAndGlyphs" >Izana</text>
<g stroke="#0a0af0">
<use href="#m_3" x="1034.6" y="52.3"/>
<use href="#m_3" x="1047.2" y="52.3"/>
<use href="#m_3" x="1059.9" y="52.3"/>
<use href="#m_3" x="1072.5" y="52.3"/>
</g>
<text x="1094.9" y="59" font-size="20.7" textLength="81.2" lengthAdjust="spacingAndGlyphs" >Reunion</text>
<g stroke="#2d7d22">
<use href="#m_4" x="1034.6" y="81.5"/>
<use href="#m_4" x="1047.2" y="81.5"/>
<use href="#m_4" x="1059.9" y="81.5"/>
<use href="#m_4" x="1072.5" y="81.5"/>
</g>
<text x="1096.3" y="88.7" font-size="20.7" textLength="115.8" lengthAdjust="spacingAndGlyphs" >Wollongong</text>
<g stroke="#e0782a">
<use href="#m_s" x="1258" y="52.3"/>
<use href="#m_s" x="1270.7" y="52.3"/>
<use href="#m_s" x="1283.3" y="52.3"/>
<use href="#m_s" x="1296" y="52.3"/>
</g>
<text x="1318.5" y="59" font-size="20.7" textLength="69.4" lengthAdjust="spacingAndGlyphs" >Lauder</text>
<g stroke="#b024ba">
<use href="#m_p" x="1258" y="81.5"/>
<use href="#m_p" x="1270.7" y="81.5"/>
<use href="#m_p" x="1283.3" y="81.5"/>
<use href="#m_p" x="1296" y="81.5"/>
</g>
<text x="1318.7" y="88.7" font-size="20.7" textLength="64.5" lengthAdjust="spacingAndGlyphs" >Arrival</text>
<rect x="108.0" y="26.0" width="1298" height="432" fill="none" stroke="#000" stroke-width="1.9"/>
<text x="191.9" y="485" font-size="17.6" textLength="42.8" lengthAdjust="spacingAndGlyphs" >1992</text>
<text x="339" y="485" font-size="17.6" textLength="42.8" lengthAdjust="spacingAndGlyphs" >1996</text>
<text x="486.4" y="485" font-size="17.6" textLength="42.8" lengthAdjust="spacingAndGlyphs" >2000</text>
<text x="633.5" y="485" font-size="17.6" textLength="42.8" lengthAdjust="spacingAndGlyphs" >2004</text>
<text x="780.8" y="485" font-size="17.6" textLength="42.8" lengthAdjust="spacingAndGlyphs" >2008</text>
<text x="928.1" y="485" font-size="17.6" textLength="42.8" lengthAdjust="spacingAndGlyphs" >2012</text>
<text x="1075.2" y="485" font-size="17.6" textLength="42.8" lengthAdjust="spacingAndGlyphs" >2016</text>
<text x="1222.4" y="485" font-size="17.6" textLength="42.8" lengthAdjust="spacingAndGlyphs" >2020</text>
<text x="1369.5" y="485" font-size="17.6" textLength="42.8" lengthAdjust="spacingAndGlyphs" >2024</text>
<text x="70.3" y="433.7" font-size="17.4" textLength="22.8" lengthAdjust="spacingAndGlyphs" >−5</text>
<text x="83.3" y="345.8" font-size="17.4" textLength="9.7" lengthAdjust="spacingAndGlyphs" >0</text>
<text x="83.3" y="257.9" font-size="17.4" textLength="9.7" lengthAdjust="spacingAndGlyphs" >5</text>
<text x="72.3" y="170" font-size="17.4" textLength="20.7" lengthAdjust="spacingAndGlyphs" >10</text>
<text x="72.4" y="82.1" font-size="17.4" textLength="20.7" lengthAdjust="spacingAndGlyphs" >15</text>
<path d="M213.5,458v6.8M360.7,458v6.8M507.9,458v6.8M655.1,458v6.8M802.3,458v6.8M949.5,458v6.8M1096.7,458v6.8M1243.9,458v6.8M1391.1,458v6.8M108,427.3h-6.8M108,339.4h-6.8M108,251.5h-6.8M108,163.6h-6.8M108,75.7h-6.8" stroke="#000" stroke-width="1.85" fill="none"/>
<g transform="translate(56.1,0) rotate(-90)"><text x="-457" y="0" font-size="28.8" textLength="428.6" lengthAdjust="spacingAndGlyphs" >XHCFC-22 growth rate [ppt/year]</text></g>
<path d="M141.6,963.6V511.6M182.8,963.6V511.6M224,963.6V511.6M265.2,963.6V511.6M306.4,963.6V511.6M347.6,963.6V511.6M388.8,963.6V511.6M430,963.6V511.6M471.2,963.6V511.6M512.4,963.6V511.6M553.6,963.6V511.6M594.8,963.6V511.6M636,963.6V511.6M677.2,963.6V511.6M718.4,963.6V511.6M759.6,963.6V511.6M800.8,963.6V511.6M842,963.6V511.6M883.2,963.6V511.6M924.4,963.6V511.6M965.6,963.6V511.6M1006.8,963.6V511.6M1048,963.6V511.6M1089.2,963.6V511.6M1130.4,963.6V511.6M1171.6,963.6V511.6M1212.8,963.6V511.6M1254,963.6V511.6M1295.2,963.6V511.6M1336.4,963.6V511.6M1377.6,963.6V511.6M109,926.1H1406.3M109,831.9H1406.3M109,737.7H1406.3M109,643.5H1406.3M109,549.3H1406.3" stroke="#a9a9a9" stroke-width="1.6" stroke-dasharray="1.6,2.65" fill="none"/>
<g clip-path="url(#cb)">
<path d="M137.5,730.1V736.7M135,736.7H140M178.7,720.4V717.4M176.2,717.4H181.2M178.7,729.4V732.9M176.2,732.9H181.2M219.9,724.6V719.7M217.4,719.7H222.4M252.8,717.7V715.6M250.3,715.6H255.3M252.8,725.3V726M250.3,726H255.3M261.1,725.7V722.9M258.6,722.9H263.6M294,728.5V733M291.5,733H296.5M302.3,716.3V702.7M299.8,702.7H304.8M335.2,745V746.5M332.7,746.5H337.7M343.5,719.1V703.1M341,703.1H346M343.5,734.3V737.4M341,737.4H346M376.4,729.5V714.2M373.9,714.2H378.9M384.7,723.4V702.7M382.2,702.7H387.2M384.7,736.6V740.4M382.2,740.4H387.2M417.6,708.2V689.7M415.1,689.7H420.1M417.6,764V778.4M415.1,778.4H420.1M425.9,727.5V712.3M423.4,712.3H428.4M425.9,737.4V743.5M423.4,743.5H428.4M458.8,704.7V680.3M456.3,680.3H461.3M458.8,756.4V774.2M456.3,774.2H461.3M467.1,731.3V722.2M464.6,722.2H469.6M467.1,737.4V743.8M464.6,743.8H469.6M500,704.1V686.5M497.5,686.5H502.5M500,747V757M497.5,757H502.5M508.3,730.5V724.1M505.8,724.1H510.8M508.3,735.8V743.5M505.8,743.5H510.8M541.2,716.4V706.4M538.7,706.4H543.7M541.2,740.9V744.6M538.7,744.6H543.7M549.5,724.4V711.7M547,711.7H552M549.5,733.5V742.3M547,742.3H552M582.4,696.2V681.2M579.9,681.2H584.9M582.4,727.2V738.2M579.9,738.2H584.9M590.7,720.5V715.8M588.2,715.8H593.2M590.7,728.4V737M588.2,737H593.2M623.6,691.1V680.4M621.1,680.4H626.1M623.6,723.2V727.1M621.1,727.1H626.1M631.9,711.5V693.8M629.4,693.8H634.4M631.9,723.2V736.8M629.4,736.8H634.4M664.8,694V686.4M662.3,686.4H667.3M664.8,710.3V718.4M662.3,718.4H667.3M673.1,702.4V694M670.6,694H675.6M673.1,713.8V725.2M670.6,725.2H675.6M706,687.9V679.9M703.5,679.9H708.5M706,704.7V710M703.5,710H708.5M714.3,695.5V679.3M711.8,679.3H716.8M714.3,705.4V716.8M711.8,716.8H716.8M747.2,678.3V664.3M744.7,664.3H749.7M747.2,708.2V716.8M744.7,716.8H749.7M755.5,690.5V679.9M753,679.9H758M755.5,699.3V707.7M753,707.7H758M788.4,677.3V667.8M785.9,667.8H790.9M788.4,710.3V716.8M785.9,716.8H790.9M796.7,689V685.6M794.2,685.6H799.2M796.7,696.6V700.6M794.2,700.6H799.2M829.6,669.4V649.1M827.1,649.1H832.1M829.6,712.7V720.6M827.1,720.6H832.1M837.9,691.5V688.1M835.4,688.1H840.4M837.9,697.1V703.3M835.4,703.3H840.4M870.8,681.2V670.5M868.3,670.5H873.3M870.8,716.4V724M868.3,724H873.3M879.1,697.4V691.8M876.6,691.8H881.6M879.1,701.6V709.5M876.6,709.5H881.6M912,685.7V668.5M909.5,668.5H914.5M912,720.6V726.8M909.5,726.8H914.5M920.3,705.4V699.2M917.8,699.2H922.8M920.3,711.9V721M917.8,721H922.8M953.2,706.1V698.5M950.7,698.5H955.7M953.2,722.7V734.4M950.7,734.4H955.7M961.5,716.4V709.5M959,709.5H964M961.5,722.4V733M959,733H964M994.4,719.3V712.4M991.9,712.4H996.9M994.4,734V740.9M991.9,740.9H996.9M1002.7,728.5V721.1M1000.2,721.1H1005.2M1002.7,734.5V745.6M1000.2,745.6H1005.2M1035.6,723.9V711.4M1033.1,711.4H1038.1M1035.6,749.8V763M1033.1,763H1038.1M1043.9,741.2V734.3M1041.4,734.3H1046.4M1043.9,747.4V757.5M1041.4,757.5H1046.4M1076.8,726.2V714.2M1074.3,714.2H1079.3M1076.8,753.3V766.8M1074.3,766.8H1079.3M1085.1,753.9V746.4M1082.6,746.4H1087.6M1085.1,759.4V769.5M1082.6,769.5H1087.6M1118,738.1V724.9M1115.5,724.9H1120.5M1118,765V773.3M1115.5,773.3H1120.5M1126.3,764.6V758.5M1123.8,758.5H1128.8M1126.3,770.9V779.6M1123.8,779.6H1128.8M1159.2,738.4V729.4M1156.7,729.4H1161.7M1159.2,772.7V787.9M1156.7,787.9H1161.7M1167.5,774.6V768.6M1165,768.6H1170M1167.5,780.2V785.4M1165,785.4H1170M1200.4,744.2V723.1M1197.9,723.1H1202.9M1200.4,786.7V802.1M1197.9,802.1H1202.9M1208.7,783V774.4M1206.2,774.4H1211.2M1208.7,788.3V795.1M1206.2,795.1H1211.2M1241.6,752.5V749M1239.1,749H1244.1M1241.6,796.2V810.1M1239.1,810.1H1244.1M1249.9,789.4V778.7M1247.4,778.7H1252.4M1249.9,796.2V807.4M1247.4,807.4H1252.4M1282.8,761.2V760.4M1280.3,760.4H1285.3M1282.8,804.7V825.7M1280.3,825.7H1285.3M1291.1,794.2V781.1M1288.6,781.1H1293.6M1291.1,805.3V819.3M1288.6,819.3H1293.6M1324,809.8V814.2M1321.5,814.2H1326.5M1332.3,796.2V778M1329.8,778H1334.8M1332.3,813.7V837.6M1329.8,837.6H1334.8M1365.2,814.8V824.1M1362.7,824.1H1367.7M1373.5,797.3V773.5M1371,773.5H1376M1373.5,813.7V841.2M1371,841.2H1376" stroke="#000" stroke-width="2.05" fill="none"/>
<g stroke="#000" stroke-width="2.05" stroke-linejoin="miter">
<rect x="133.4" y="716.3" width="8.2" height="13.8" fill="#f0a53c"/>
<rect x="174.6" y="720.4" width="8.2" height="9" fill="#f0a53c"/>
<rect x="215.8" y="724.6" width="8.2" height="5.5" fill="#f0a53c"/>
<path d="M248.7,725.3L256.9,725.3L256.9,724.7L254.9,722.1L256.9,719.5L256.9,717.7L248.7,717.7L248.7,719.5L250.7,722.1L248.7,724.7Z" fill="#52bcbc"/>
<rect x="257" y="725.7" width="8.2" height="5.5" fill="#f0a53c"/>
<path d="M289.9,728.5L298.1,728.5L298.1,733L296.1,726.7L298.1,721L298.1,717.5L289.9,717.5L289.9,721L291.9,726.7L289.9,733Z" fill="#52bcbc"/>
<rect x="298.2" y="716.3" width="8.2" height="17.7" fill="#f0a53c"/>
<path d="M331.1,745L339.3,745L339.3,737.5L337.3,729L339.3,720.6L339.3,729.5L331.1,729.5L331.1,720.6L333.1,729L331.1,737.5Z" fill="#52bcbc"/>
<rect x="339.4" y="719.1" width="8.2" height="15.2" fill="#f0a53c"/>
<path d="M372.3,757.9L380.5,757.9L380.5,741L378.5,729L380.5,722.2L380.5,729.5L372.3,729.5L372.3,722.2L374.3,729L372.3,741Z" fill="#52bcbc"/>
<rect x="380.6" y="723.4" width="8.2" height="13.2" fill="#f0a53c"/>
<path d="M413.5,764L421.7,764L421.7,740.5L419.7,727L421.7,713.5L421.7,708.2L413.5,708.2L413.5,713.5L415.5,727L413.5,740.5Z" fill="#52bcbc"/>
<rect x="421.8" y="727.5" width="8.2" height="9.9" fill="#f0a53c"/>
<path d="M454.7,756.4L462.9,756.4L462.9,736L460.9,722.9L462.9,710L462.9,704.7L454.7,704.7L454.7,710L456.7,722.9L454.7,736Z" fill="#52bcbc"/>
<rect x="463" y="731.3" width="8.2" height="6.1" fill="#f0a53c"/>
<path d="M495.9,747L504.1,747L504.1,729.4L502.1,720.2L504.1,710.6L504.1,704.1L495.9,704.1L495.9,710.6L497.9,720.2L495.9,729.4Z" fill="#52bcbc"/>
<rect x="504.2" y="730.5" width="8.2" height="5.3" fill="#f0a53c"/>
<path d="M537.1,740.9L545.3,740.9L545.3,727L543.3,718.8L545.3,710.6L545.3,716.4L537.1,716.4L537.1,710.6L539.1,718.8L537.1,727Z" fill="#52bcbc"/>
<rect x="545.4" y="724.4" width="8.2" height="9.1" fill="#f0a53c"/>
<path d="M578.3,727.2L586.5,727.2L586.5,722.3L584.5,716.7L586.5,710.6L586.5,696.2L578.3,696.2L578.3,710.6L580.3,716.7L578.3,722.3Z" fill="#52bcbc"/>
<rect x="586.6" y="720.5" width="8.2" height="7.9" fill="#f0a53c"/>
<path d="M619.5,723.2L627.7,723.2L627.7,718.5L625.7,710.9L627.7,703L627.7,691.1L619.5,691.1L619.5,703L621.5,710.9L619.5,718.5Z" fill="#52bcbc"/>
<rect x="627.8" y="711.5" width="8.2" height="11.7" fill="#f0a53c"/>
<path d="M640.1,694.5L648.3,694.5L648.3,694.5L646.3,694L648.3,693.5L648.3,693.5L640.1,693.5L640.1,693.5L642.1,694L640.1,694.5Z" fill="#808080" stroke-linejoin="round"/>
<path d="M660.7,710.3L668.9,710.3L668.9,704L666.9,699.3L668.9,695L668.9,694L660.7,694L660.7,695L662.7,699.3L660.7,704Z" fill="#52bcbc"/>
<rect x="669" y="702.4" width="8.2" height="11.4" fill="#f0a53c"/>
<path d="M681.3,698.2L689.5,698.2L689.5,699.1L687.5,697.8L689.5,696.5L689.5,697.3L681.3,697.3L681.3,696.5L683.3,697.8L681.3,699.1Z" fill="#808080" stroke-linejoin="round"/>
<path d="M701.9,704.7L710.1,704.7L710.1,703L708.1,698.6L710.1,694L710.1,687.9L701.9,687.9L701.9,694L703.9,698.6L701.9,703Z" fill="#52bcbc"/>
<rect x="710.2" y="695.5" width="8.2" height="9.9" fill="#f0a53c"/>
<path d="M722.5,702.9L730.7,702.9L730.7,703.2L728.7,702.4L730.7,701.6L730.7,701.9L722.5,701.9L722.5,701.6L724.5,702.4L722.5,703.2Z" fill="#808080" stroke-linejoin="round"/>
<path d="M743.1,708.2L751.3,708.2L751.3,703L749.3,694.8L751.3,686L751.3,678.3L743.1,678.3L743.1,686L745.1,694.8L743.1,703Z" fill="#52bcbc"/>
<rect x="751.4" y="690.5" width="8.2" height="8.8" fill="#f0a53c"/>
<path d="M763.7,705.6L771.9,705.6L771.9,705.7L769.9,705.1L771.9,704.5L771.9,704.6L763.7,704.6L763.7,704.5L765.7,705.1L763.7,705.7Z" fill="#808080" stroke-linejoin="round"/>
<path d="M784.3,710.3L792.5,710.3L792.5,698L790.5,690.2L792.5,682L792.5,677.3L784.3,677.3L784.3,682L786.3,690.2L784.3,698Z" fill="#52bcbc"/>
<rect x="792.6" y="689" width="8.2" height="7.6" fill="#f0a53c"/>
<path d="M804.9,707.4L813.1,707.4L813.1,707.4L811.1,706.9L813.1,706.4L813.1,706.4L804.9,706.4L804.9,706.4L806.9,706.9L804.9,707.4Z" fill="#808080" stroke-linejoin="round"/>
<path d="M825.5,712.7L833.7,712.7L833.7,697.1L831.7,690.4L833.7,683.9L833.7,669.4L825.5,669.4L825.5,683.9L827.5,690.4L825.5,697.1Z" fill="#52bcbc"/>
<rect x="833.8" y="691.5" width="8.2" height="5.6" fill="#f0a53c"/>
<path d="M846.1,709.6L854.3,709.6L854.3,709.6L852.3,709.1L854.3,708.6L854.3,708.6L846.1,708.6L846.1,708.6L848.1,709.1L846.1,709.6Z" fill="#808080" stroke-linejoin="round"/>
<path d="M866.7,716.4L874.9,716.4L874.9,708.1L872.9,702.2L874.9,696.4L874.9,681.2L866.7,681.2L866.7,696.4L868.7,702.2L866.7,708.1Z" fill="#52bcbc"/>
<rect x="875" y="697.4" width="8.2" height="4.2" fill="#f0a53c"/>
<path d="M887.3,713.5L895.5,713.5L895.5,713.7L893.5,713L895.5,712.3L895.5,712.5L887.3,712.5L887.3,712.3L889.3,713L887.3,713.7Z" fill="#808080" stroke-linejoin="round"/>
<path d="M907.9,720.6L916.1,720.6L916.1,717.1L914.1,710.9L916.1,704.7L916.1,685.7L907.9,685.7L907.9,704.7L909.9,710.9L907.9,717.1Z" fill="#52bcbc"/>
<rect x="916.2" y="705.4" width="8.2" height="6.5" fill="#f0a53c"/>
<path d="M928.5,720.2L936.7,720.2L936.7,721.2L934.7,719.6L936.7,718L936.7,719L928.5,719L928.5,718L930.5,719.6L928.5,721.2Z" fill="#808080" stroke-linejoin="round"/>
<path d="M949.1,722.7L957.3,722.7L957.3,727.5L955.3,722.7L957.3,716.5L957.3,706.1L949.1,706.1L949.1,716.5L951.1,722.7L949.1,727.5Z" fill="#52bcbc"/>
<rect x="957.4" y="716.4" width="8.2" height="6" fill="#f0a53c"/>
<path d="M969.7,728.1L977.9,728.1L977.9,729.1L975.9,727.5L977.9,725.9L977.9,726.9L969.7,726.9L969.7,725.9L971.7,727.5L969.7,729.1Z" fill="#808080" stroke-linejoin="round"/>
<path d="M990.3,734L998.5,734L998.5,733L996.5,728.7L998.5,724L998.5,719.3L990.3,719.3L990.3,724L992.3,728.7L990.3,733Z" fill="#52bcbc"/>
<rect x="998.6" y="728.5" width="8.2" height="6" fill="#f0a53c"/>
<path d="M1010.9,738.4L1019.1,738.4L1019.1,739.4L1017.1,737L1019.1,734.6L1019.1,735.6L1010.9,735.6L1010.9,734.6L1012.9,737L1010.9,739.4Z" fill="#808080" stroke-linejoin="round"/>
<path d="M1031.5,749.8L1039.7,749.8L1039.7,742.6L1037.7,737L1039.7,731.5L1039.7,723.9L1031.5,723.9L1031.5,731.5L1033.5,737L1031.5,742.6Z" fill="#52bcbc"/>
<rect x="1039.8" y="741.2" width="8.2" height="6.2" fill="#f0a53c"/>
<path d="M1052.1,747.4L1060.3,747.4L1060.3,748.4L1058.3,746L1060.3,743.6L1060.3,744.6L1052.1,744.6L1052.1,743.6L1054.1,746L1052.1,748.4Z" fill="#808080" stroke-linejoin="round"/>
<path d="M1072.7,753.3L1080.9,753.3L1080.9,749.5L1078.9,744.2L1080.9,738.4L1080.9,726.2L1072.7,726.2L1072.7,738.4L1074.7,744.2L1072.7,749.5Z" fill="#52bcbc"/>
<rect x="1081" y="753.9" width="8.2" height="5.5" fill="#f0a53c"/>
<path d="M1093.3,755L1101.5,755L1101.5,756L1099.5,753.9L1101.5,751.8L1101.5,752.8L1093.3,752.8L1093.3,751.8L1095.3,753.9L1093.3,756Z" fill="#808080" stroke-linejoin="round"/>
<path d="M1113.9,765L1122.1,765L1122.1,754L1120.1,748.1L1122.1,742L1122.1,738.1L1113.9,738.1L1113.9,742L1115.9,748.1L1113.9,754Z" fill="#52bcbc"/>
<rect x="1122.2" y="764.6" width="8.2" height="6.3" fill="#f0a53c"/>
<path d="M1134.5,761.4L1142.7,761.4L1142.7,762.4L1140.7,760.2L1142.7,758L1142.7,759L1134.5,759L1134.5,758L1136.5,760.2L1134.5,762.4Z" fill="#808080" stroke-linejoin="round"/>
<path d="M1155.1,772.7L1163.3,772.7L1163.3,762L1161.3,754.3L1163.3,746L1163.3,738.4L1155.1,738.4L1155.1,746L1157.1,754.3L1155.1,762Z" fill="#52bcbc"/>
<rect x="1163.4" y="774.6" width="8.2" height="5.6" fill="#f0a53c"/>
<path d="M1175.7,766.1L1183.9,766.1L1183.9,767.1L1181.9,765.6L1183.9,764.1L1183.9,765.1L1175.7,765.1L1175.7,764.1L1177.7,765.6L1175.7,767.1Z" fill="#808080" stroke-linejoin="round"/>
<path d="M1196.3,786.7L1204.5,786.7L1204.5,766.8L1202.5,759.6L1204.5,752.5L1204.5,744.2L1196.3,744.2L1196.3,752.5L1198.3,759.6L1196.3,766.8Z" fill="#52bcbc"/>
<rect x="1204.6" y="783" width="8.2" height="5.3" fill="#f0a53c"/>
<path d="M1216.9,771L1225.1,771L1225.1,772L1223.1,770.5L1225.1,769L1225.1,770L1216.9,770L1216.9,769L1218.9,770.5L1216.9,772Z" fill="#808080" stroke-linejoin="round"/>
<path d="M1237.5,796.2L1245.7,796.2L1245.7,777L1243.7,765.7L1245.7,755L1245.7,752.5L1237.5,752.5L1237.5,755L1239.5,765.7L1237.5,777Z" fill="#52bcbc"/>
<rect x="1245.8" y="789.4" width="8.2" height="6.8" fill="#f0a53c"/>
<path d="M1258.1,778.5L1266.3,778.5L1266.3,779.5L1264.3,777.1L1266.3,774.7L1266.3,775.7L1258.1,775.7L1258.1,774.7L1260.1,777.1L1258.1,779.5Z" fill="#808080" stroke-linejoin="round"/>
<path d="M1278.7,804.7L1286.9,804.7L1286.9,785L1284.9,773.5L1286.9,762L1286.9,761.2L1278.7,761.2L1278.7,762L1280.7,773.5L1278.7,785Z" fill="#52bcbc"/>
<rect x="1287" y="794.2" width="8.2" height="11.1" fill="#f0a53c"/>
<path d="M1299.3,786.9L1307.5,786.9L1307.5,787.9L1305.5,785.1L1307.5,782.3L1307.5,783.3L1299.3,783.3L1299.3,782.3L1301.3,785.1L1299.3,787.9Z" fill="#808080" stroke-linejoin="round"/>
<path d="M1319.9,809.8L1328.1,809.8L1328.1,795L1326.1,784L1328.1,773L1328.1,770L1319.9,770L1319.9,773L1321.9,784L1319.9,795Z" fill="#52bcbc"/>
<rect x="1328.2" y="796.2" width="8.2" height="17.5" fill="#f0a53c"/>
<path d="M1340.5,795.6L1348.7,795.6L1348.7,796.6L1346.7,793.5L1348.7,790.4L1348.7,791.4L1340.5,791.4L1340.5,790.4L1342.5,793.5L1340.5,796.6Z" fill="#808080" stroke-linejoin="round"/>
<path d="M1361.1,814.8L1369.3,814.8L1369.3,804L1367.3,791.9L1369.3,780L1369.3,774.4L1361.1,774.4L1361.1,780L1363.1,791.9L1361.1,804Z" fill="#52bcbc"/>
<rect x="1369.4" y="797.3" width="8.2" height="16.4" fill="#f0a53c"/>
<path d="M1381.7,804.9L1389.9,804.9L1389.9,805.9L1387.9,802.6L1389.9,799.3L1389.9,800.3L1381.7,800.3L1381.7,799.3L1383.7,802.6L1381.7,805.9Z" fill="#808080" stroke-linejoin="round"/>
</g>
<path d="M133.4,727.6H141.6M174.6,727.1H182.8M215.8,727.6H224M250.7,722.1H254.9M257,728.5H265.2M291.9,726.7H296.1M298.2,730.1H306.4M333.1,729H337.3M339.4,732H347.6M374.3,729H378.5M380.6,734.6H388.8M415.5,727H419.7M421.8,735.8H430M456.7,722.9H460.9M463,734.3H471.2M497.9,720.2H502.1M504.2,733.5H512.4M539.1,718.8H543.3M545.4,728.8H553.6M580.3,716.7H584.5M586.6,723.5H594.8M621.5,710.9H625.7M627.8,716.2H636M641,694H647.4M662.7,699.3H666.9M669,707H677.2M682.2,697.8H688.6M703.9,698.6H708.1M710.2,698.6H718.4M723.4,702.4H729.8M745.1,694.8H749.3M751.4,694H759.6M764.6,705.1H771M786.3,690.2H790.5M792.6,692.5H800.8M805.8,706.9H812.2M827.5,690.4H831.7M833.8,694.3H842M847,709.1H853.4M868.7,702.2H872.9M875,699.8H883.2M888.2,713H894.6M909.9,710.9H914.1M916.2,708.4H924.4M929.4,719.6H935.8M951.1,722.7H955.3M957.4,719.6H965.6M970.6,727.5H977M992.3,728.7H996.5M998.6,731.5H1006.8M1011.8,737H1018.2M1033.5,737H1037.7M1039.8,744.2H1048M1053,746H1059.4M1074.7,744.2H1078.9M1081,756.7H1089.2M1094.2,753.9H1100.6M1115.9,748.1H1120.1M1122.2,767.8H1130.4M1135.4,760.2H1141.8M1157.1,754.3H1161.3M1163.4,777.4H1171.6M1176.6,765.6H1183M1198.3,759.6H1202.5M1204.6,785.6H1212.8M1217.8,770.5H1224.2M1239.5,765.7H1243.7M1245.8,792.3H1254M1259,777.1H1265.4M1280.7,773.5H1284.9M1287,796.2H1295.2M1300.2,785.1H1306.6M1321.9,784H1326.1M1328.2,799.4H1336.4M1341.4,793.5H1347.8M1363.1,791.9H1367.3M1369.4,802.1H1377.6M1382.6,802.6H1389" stroke="#0a1ef0" stroke-width="2.0" fill="none"/>
</g>
<rect x="1262.7" y="521.9" width="133.9" height="94" rx="3.5" ry="3.5" fill="#fff" fill-opacity="0.8" stroke="#cfcfcf" stroke-width="1.6"/>
<rect x="1270.6" y="530.5" width="50.8" height="14.3" fill="#52bcbc" stroke="#000" stroke-width="1.9"/>
<text x="1337" y="544.6" font-size="18.9" textLength="42.8" lengthAdjust="spacingAndGlyphs" >FTIR</text>
<rect x="1270.6" y="560.1" width="50.8" height="14.3" fill="#f0a53c" stroke="#000" stroke-width="1.9"/>
<text x="1336.8" y="574.5" font-size="18.9" textLength="51" lengthAdjust="spacingAndGlyphs" >Flask</text>
<rect x="1270.6" y="589.7" width="50.8" height="14.3" fill="#808080" stroke="#000" stroke-width="1.9"/>
<text x="1338" y="604.1" font-size="18.9" textLength="38.9" lengthAdjust="spacingAndGlyphs" >ACE</text>
<rect x="109.0" y="511.6" width="1297.3" height="452" fill="none" stroke="#000" stroke-width="1.9"/>
<g transform="translate(140.2,999.2) rotate(-45)"><text x="-21.2" y="6.2" font-size="17.6" textLength="41.9" lengthAdjust="spacingAndGlyphs" >1992</text></g>
<g transform="translate(181.4,999.2) rotate(-45)"><text x="-21.3" y="6.2" font-size="17.6" textLength="41.9" lengthAdjust="spacingAndGlyphs" >1993</text></g>
<g transform="translate(222.6,999.2) rotate(-45)"><text x="-21.4" y="6.2" font-size="17.6" textLength="41.9" lengthAdjust="spacingAndGlyphs" >1994</text></g>
<g transform="translate(263.8,999.2) rotate(-45)"><text x="-21.3" y="6.2" font-size="17.6" textLength="41.9" lengthAdjust="spacingAndGlyphs" >1995</text></g>
<g transform="translate(305,999.2) rotate(-45)"><text x="-21.3" y="6.2" font-size="17.6" textLength="41.9" lengthAdjust="spacingAndGlyphs" >1996</text></g>
<g transform="translate(346.2,999.2) rotate(-45)"><text x="-21.2" y="6.2" font-size="17.6" textLength="41.9" lengthAdjust="spacingAndGlyphs" >1997</text></g>
<g transform="translate(387.4,999.2) rotate(-45)"><text x="-21.3" y="6.2" font-size="17.6" textLength="41.9" lengthAdjust="spacingAndGlyphs" >1998</text></g>
<g transform="translate(428.6,999.2) rotate(-45)"><text x="-21.2" y="6.2" font-size="17.6" textLength="41.9" lengthAdjust="spacingAndGlyphs" >1999</text></g>
<g transform="translate(469.8,999.2) rotate(-45)"><text x="-21.1" y="6.2" font-size="17.6" textLength="41.9" lengthAdjust="spacingAndGlyphs" >2000</text></g>
<g transform="translate(511,999.2) rotate(-45)"><text x="-21" y="6.2" font-size="17.6" textLength="41.9" lengthAdjust="spacingAndGlyphs" >2001</text></g>
<g transform="translate(552.2,999.2) rotate(-45)"><text x="-21" y="6.2" font-size="17.6" textLength="41.9" lengthAdjust="spacingAndGlyphs" >2002</text></g>
<g transform="translate(593.4,999.2) rotate(-45)"><text x="-21" y="6.2" font-size="17.6" textLength="41.9" lengthAdjust="spacingAndGlyphs" >2003</text></g>
<g transform="translate(634.6,999.2) rotate(-45)"><text x="-21.1" y="6.2" font-size="17.6" textLength="41.9" lengthAdjust="spacingAndGlyphs" >2004</text></g>
<g transform="translate(675.8,999.2) rotate(-45)"><text x="-21" y="6.2" font-size="17.6" textLength="41.9" lengthAdjust="spacingAndGlyphs" >2005</text></g>
<g transform="translate(717,999.2) rotate(-45)"><text x="-21" y="6.2" font-size="17.6" textLength="41.9" lengthAdjust="spacingAndGlyphs" >2006</text></g>
<g transform="translate(758.2,999.2) rotate(-45)"><text x="-21" y="6.2" font-size="17.6" textLength="41.9" lengthAdjust="spacingAndGlyphs" >2007</text></g>
<g transform="translate(799.4,999.2) rotate(-45)"><text x="-21" y="6.2" font-size="17.6" textLength="41.9" lengthAdjust="spacingAndGlyphs" >2008</text></g>
<g transform="translate(840.6,999.2) rotate(-45)"><text x="-21" y="6.2" font-size="17.6" textLength="41.9" lengthAdjust="spacingAndGlyphs" >2009</text></g>
<g transform="translate(881.8,999.2) rotate(-45)"><text x="-21.1" y="6.2" font-size="17.6" textLength="41.9" lengthAdjust="spacingAndGlyphs" >2010</text></g>
<g transform="translate(923,999.2) rotate(-45)"><text x="-20.3" y="6.2" font-size="17.6" textLength="40.5" lengthAdjust="spacingAndGlyphs" >2011</text></g>
<g transform="translate(964.2,999.2) rotate(-45)"><text x="-21" y="6.2" font-size="17.6" textLength="41.9" lengthAdjust="spacingAndGlyphs" >2012</text></g>
<g transform="translate(1005.4,999.2) rotate(-45)"><text x="-21" y="6.2" font-size="17.6" textLength="41.9" lengthAdjust="spacingAndGlyphs" >2013</text></g>
<g transform="translate(1046.6,999.2) rotate(-45)"><text x="-21.1" y="6.2" font-size="17.6" textLength="41.9" lengthAdjust="spacingAndGlyphs" >2014</text></g>
<g transform="translate(1087.8,999.2) rotate(-45)"><text x="-21" y="6.2" font-size="17.6" textLength="41.9" lengthAdjust="spacingAndGlyphs" >2015</text></g>
<g transform="translate(1129,999.2) rotate(-45)"><text x="-21" y="6.2" font-size="17.6" textLength="41.9" lengthAdjust="spacingAndGlyphs" >2016</text></g>
<g transform="translate(1170.2,999.2) rotate(-45)"><text x="-21" y="6.2" font-size="17.6" textLength="41.9" lengthAdjust="spacingAndGlyphs" >2017</text></g>
<g transform="translate(1211.4,999.2) rotate(-45)"><text x="-21" y="6.2" font-size="17.6" textLength="41.9" lengthAdjust="spacingAndGlyphs" >2018</text></g>
<g transform="translate(1252.6,999.2) rotate(-45)"><text x="-21" y="6.2" font-size="17.6" textLength="41.9" lengthAdjust="spacingAndGlyphs" >2019</text></g>
<g transform="translate(1293.8,999.2) rotate(-45)"><text x="-21.1" y="6.2" font-size="17.6" textLength="41.9" lengthAdjust="spacingAndGlyphs" >2020</text></g>
<g transform="translate(1335,999.2) rotate(-45)"><text x="-21" y="6.2" font-size="17.6" textLength="41.9" lengthAdjust="spacingAndGlyphs" >2021</text></g>
<g transform="translate(1376.2,999.2) rotate(-45)"><text x="-21" y="6.2" font-size="17.6" textLength="41.9" lengthAdjust="spacingAndGlyphs" >2022</text></g>
<text x="71" y="932.5" font-size="17.4" textLength="22.8" lengthAdjust="spacingAndGlyphs" >−5</text>
<text x="84" y="838.3" font-size="17.4" textLength="9.7" lengthAdjust="spacingAndGlyphs" >0</text>
<text x="84" y="744.1" font-size="17.4" textLength="9.7" lengthAdjust="spacingAndGlyphs" >5</text>
<text x="73" y="649.9" font-size="17.4" textLength="20.7" lengthAdjust="spacingAndGlyphs" >10</text>
<text x="73.1" y="555.7" font-size="17.4" textLength="20.7" lengthAdjust="spacingAndGlyphs" >15</text>
<path d="M141.6,963.6v6.8M182.8,963.6v6.8M224,963.6v6.8M265.2,963.6v6.8M306.4,963.6v6.8M347.6,963.6v6.8M388.8,963.6v6.8M430,963.6v6.8M471.2,963.6v6.8M512.4,963.6v6.8M553.6,963.6v6.8M594.8,963.6v6.8M636,963.6v6.8M677.2,963.6v6.8M718.4,963.6v6.8M759.6,963.6v6.8M800.8,963.6v6.8M842,963.6v6.8M883.2,963.6v6.8M924.4,963.6v6.8M965.6,963.6v6.8M1006.8,963.6v6.8M1048,963.6v6.8M1089.2,963.6v6.8M1130.4,963.6v6.8M1171.6,963.6v6.8M1212.8,963.6v6.8M1254,963.6v6.8M1295.2,963.6v6.8M1336.4,963.6v6.8M1377.6,963.6v6.8M109,926.1h-6.8M109,831.9h-6.8M109,737.7h-6.8M109,643.5h-6.8M109,549.3h-6.8" stroke="#000" stroke-width="1.85" fill="none"/>
<g transform="translate(56.5,0) rotate(-90)"><text x="-963" y="0" font-size="28.8" textLength="450.3" lengthAdjust="spacingAndGlyphs" >(X)HCFC-22 growth rate [ppt/year]</text></g>
<text x="730.6" y="1047.7" font-size="27.1" textLength="54.7" lengthAdjust="spacingAndGlyphs" >Year</text>
</svg></body></html>
